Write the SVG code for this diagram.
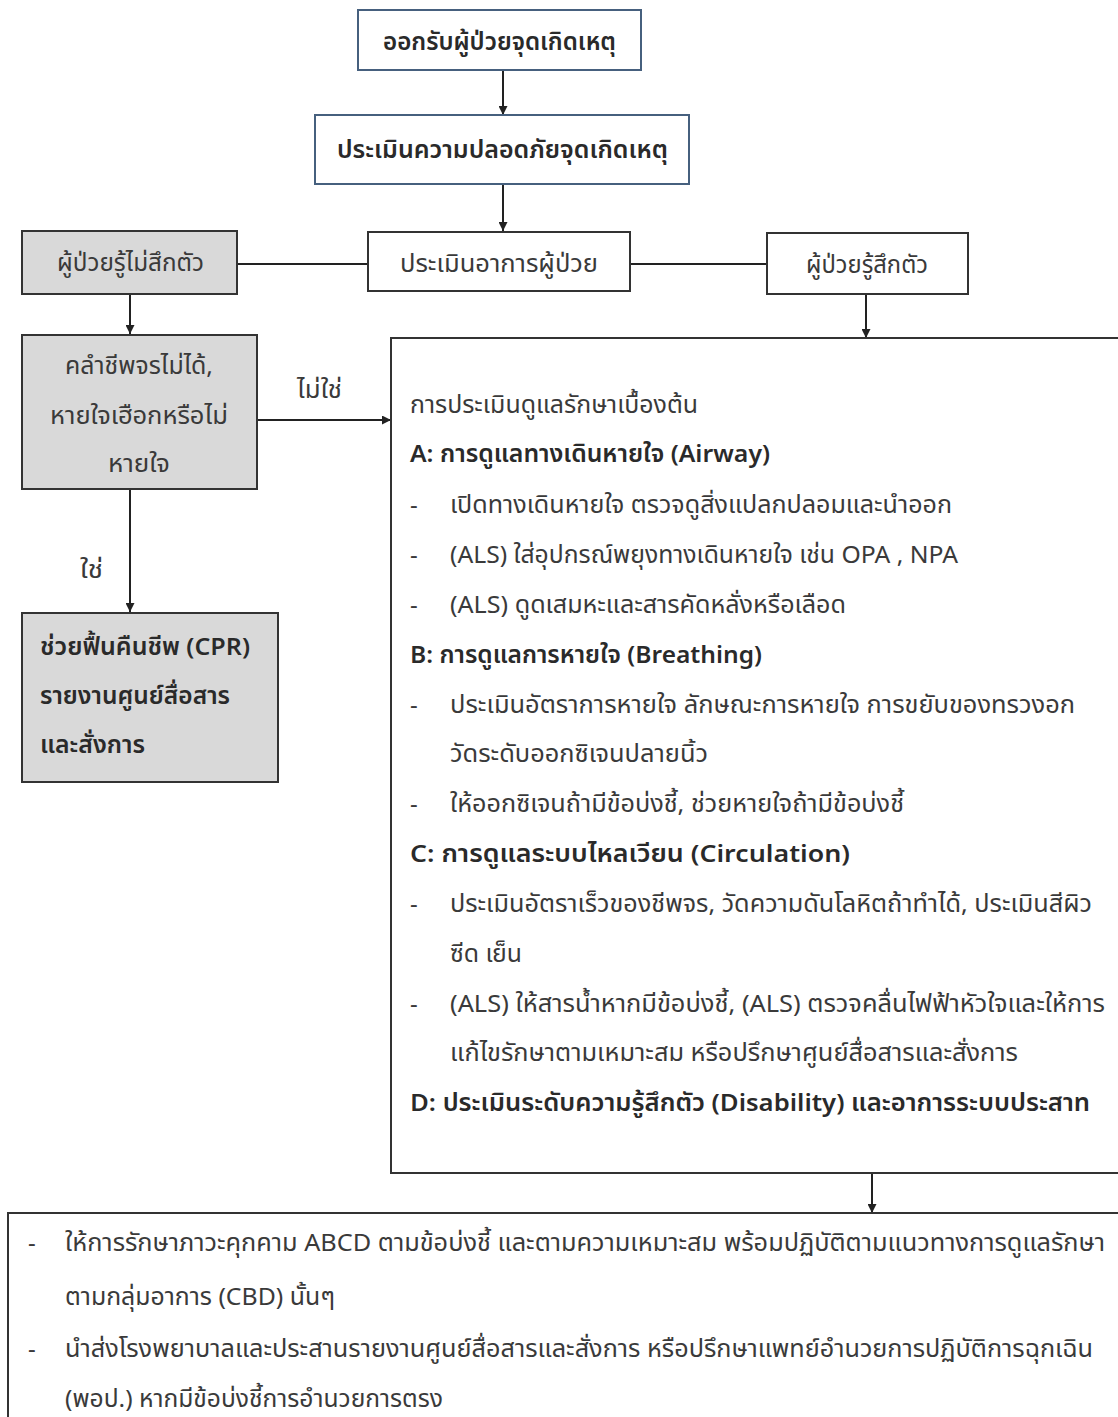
<svg xmlns="http://www.w3.org/2000/svg" width="1118" height="1417" viewBox="0 0 1118 1417">
  <defs>
    <marker id="arrow" viewBox="0 0 10 10" refX="10" refY="5" markerWidth="11" markerHeight="9" markerUnits="userSpaceOnUse" orient="auto">
      <path d="M0,0 L10,5 L0,10 z" fill="#222"/>
    </marker>
    <style>
      text { font-family: "Noto Sans Thai", "Leelawadee UI", Tahoma, "Noto Sans", "DejaVu Sans", sans-serif; fill: #3a3a3a; font-size: 24px; }
      .b { font-weight: 600; fill: #2a2a2a; }
      .box { fill: #fff; stroke: #333; stroke-width: 2; }
      .blue { fill: #fff; stroke: #46607e; stroke-width: 2; }
      .grey { fill: #d9d9d9; stroke: #333; stroke-width: 2; }
      .conn { fill: none; stroke: #222; stroke-width: 2; }
      .mid { text-anchor: middle; }
    </style>
  </defs>
  <rect width="1118" height="1417" fill="#fff"/>

  <g id="connectors">
    <line class="conn" x1="503" y1="70" x2="503" y2="115" marker-end="url(#arrow)"/>
    <line class="conn" x1="503" y1="184" x2="503" y2="231" marker-end="url(#arrow)"/>
    <line class="conn" x1="237" y1="264" x2="368" y2="264"/>
    <line class="conn" x1="630" y1="264" x2="767" y2="264"/>
    <line class="conn" x1="130" y1="294" x2="130" y2="334" marker-end="url(#arrow)"/>
    <line class="conn" x1="866" y1="294" x2="866" y2="338" marker-end="url(#arrow)"/>
    <line class="conn" x1="257" y1="420" x2="391" y2="420" marker-end="url(#arrow)"/>
    <line class="conn" x1="130" y1="489" x2="130" y2="612" marker-end="url(#arrow)"/>
    <line class="conn" x1="872" y1="1173" x2="872" y2="1213" marker-end="url(#arrow)"/>
    <text x="297" y="398" textLength="45" lengthAdjust="spacingAndGlyphs">ไม่ใช่</text>
    <text x="80" y="578" textLength="23" lengthAdjust="spacingAndGlyphs">ใช่</text>
  </g>

  <g id="receive">
    <rect class="blue" x="358" y="10" width="283" height="60"/>
    <text x="383" y="50" class="b" textLength="233" lengthAdjust="spacingAndGlyphs">ออกรับผู้ป่วยจุดเกิดเหตุ</text>
  </g>

  <g id="scene-safety">
    <rect class="blue" x="315" y="115" width="374" height="69"/>
    <text x="337" y="158" class="b" textLength="331" lengthAdjust="spacingAndGlyphs">ประเมินความปลอดภัยจุดเกิดเหตุ</text>
  </g>

  <g id="assess">
    <rect class="box" x="368" y="232" width="262" height="59"/>
    <text x="400" y="272" textLength="198" lengthAdjust="spacingAndGlyphs">ประเมินอาการผู้ป่วย</text>
  </g>

  <g id="unconscious">
    <rect class="grey" x="22" y="231" width="215" height="63"/>
    <text x="57" y="271" textLength="147" lengthAdjust="spacingAndGlyphs">ผู้ป่วยรู้ไม่สึกตัว</text>
  </g>

  <g id="conscious">
    <rect class="box" x="767" y="233" width="201" height="61"/>
    <text x="806" y="273" textLength="122" lengthAdjust="spacingAndGlyphs">ผู้ป่วยรู้สึกตัว</text>
  </g>

  <g id="pulse-check">
    <rect class="grey" x="22" y="335" width="235" height="154"/>
    <text x="65" y="374" textLength="148" lengthAdjust="spacingAndGlyphs">คลำชีพจรไม่ได้,</text>
    <text x="50" y="424" textLength="178" lengthAdjust="spacingAndGlyphs">หายใจเฮือกหรือไม่</text>
    <text x="108" y="472" textLength="62" lengthAdjust="spacingAndGlyphs">หายใจ</text>
  </g>

  <g id="cpr">
    <rect class="grey" x="22" y="613" width="256" height="169"/>
    <text x="40" y="655" class="b" textLength="210" lengthAdjust="spacingAndGlyphs">ช่วยฟื้นคืนชีพ (CPR)</text>
    <text x="40" y="704" class="b" textLength="190" lengthAdjust="spacingAndGlyphs">รายงานศูนย์สื่อสาร</text>
    <text x="40" y="753" class="b" textLength="105" lengthAdjust="spacingAndGlyphs">และสั่งการ</text>
  </g>

  <g id="primary-care">
    <rect class="box" x="391" y="338" width="735" height="835"/>
    <text x="410" y="413" textLength="288" lengthAdjust="spacingAndGlyphs">การประเมินดูแลรักษาเบื้องต้น</text>
    <text x="410" y="462" class="b" textLength="360" lengthAdjust="spacingAndGlyphs">A: การดูแลทางเดินหายใจ (Airway)</text>
    <text x="410" y="513">-</text>
    <text x="450" y="513" textLength="502" lengthAdjust="spacingAndGlyphs">เปิดทางเดินหายใจ ตรวจดูสิ่งแปลกปลอมและนำออก</text>
    <text x="410" y="563">-</text>
    <text x="450" y="563" textLength="508" lengthAdjust="spacingAndGlyphs">(ALS) ใส่อุปกรณ์พยุงทางเดินหายใจ เช่น OPA , NPA</text>
    <text x="410" y="613">-</text>
    <text x="450" y="613" textLength="396" lengthAdjust="spacingAndGlyphs">(ALS) ดูดเสมหะและสารคัดหลั่งหรือเลือด</text>
    <text x="410" y="663" class="b" textLength="352" lengthAdjust="spacingAndGlyphs">B: การดูแลการหายใจ (Breathing)</text>
    <text x="410" y="713">-</text>
    <text x="450" y="713" textLength="625" lengthAdjust="spacingAndGlyphs">ประเมินอัตราการหายใจ ลักษณะการหายใจ การขยับของทรวงอก</text>
    <text x="450" y="762" textLength="258" lengthAdjust="spacingAndGlyphs">วัดระดับออกซิเจนปลายนิ้ว</text>
    <text x="410" y="812">-</text>
    <text x="450" y="812" textLength="454" lengthAdjust="spacingAndGlyphs">ให้ออกซิเจนถ้ามีข้อบ่งชี้, ช่วยหายใจถ้ามีข้อบ่งชี้</text>
    <text x="410" y="862" class="b" textLength="440" lengthAdjust="spacingAndGlyphs">C: การดูแลระบบไหลเวียน (Circulation)</text>
    <text x="410" y="912">-</text>
    <text x="450" y="912" textLength="642" lengthAdjust="spacingAndGlyphs">ประเมินอัตราเร็วของชีพจร, วัดความดันโลหิตถ้าทำได้, ประเมินสีผิว</text>
    <text x="450" y="962" textLength="72" lengthAdjust="spacingAndGlyphs">ซีด เย็น</text>
    <text x="410" y="1012">-</text>
    <text x="450" y="1012" textLength="655" lengthAdjust="spacingAndGlyphs">(ALS) ให้สารน้ำหากมีข้อบ่งชี้, (ALS) ตรวจคลื่นไฟฟ้าหัวใจและให้การ</text>
    <text x="450" y="1061" textLength="568" lengthAdjust="spacingAndGlyphs">แก้ไขรักษาตามเหมาะสม หรือปรึกษาศูนย์สื่อสารและสั่งการ</text>
    <text x="410" y="1111" class="b" textLength="680" lengthAdjust="spacingAndGlyphs">D: ประเมินระดับความรู้สึกตัว (Disability) และอาการระบบประสาท</text>
  </g>

  <g id="treatment">
    <rect class="box" x="8" y="1213" width="1120" height="220"/>
    <text x="28" y="1251">-</text>
    <text x="65" y="1251" textLength="1040" lengthAdjust="spacingAndGlyphs">ให้การรักษาภาวะคุกคาม ABCD ตามข้อบ่งชี้ และตามความเหมาะสม พร้อมปฏิบัติตามแนวทางการดูแลรักษา</text>
    <text x="65" y="1305" textLength="270" lengthAdjust="spacingAndGlyphs">ตามกลุ่มอาการ (CBD) นั้นๆ</text>
    <text x="28" y="1357">-</text>
    <text x="65" y="1357" textLength="1028" lengthAdjust="spacingAndGlyphs">นำส่งโรงพยาบาลและประสานรายงานศูนย์สื่อสารและสั่งการ หรือปรึกษาแพทย์อำนวยการปฏิบัติการฉุกเฉิน</text>
    <text x="65" y="1407" textLength="378" lengthAdjust="spacingAndGlyphs">(พอป.) หากมีข้อบ่งชี้การอำนวยการตรง</text>
  </g>
</svg>
